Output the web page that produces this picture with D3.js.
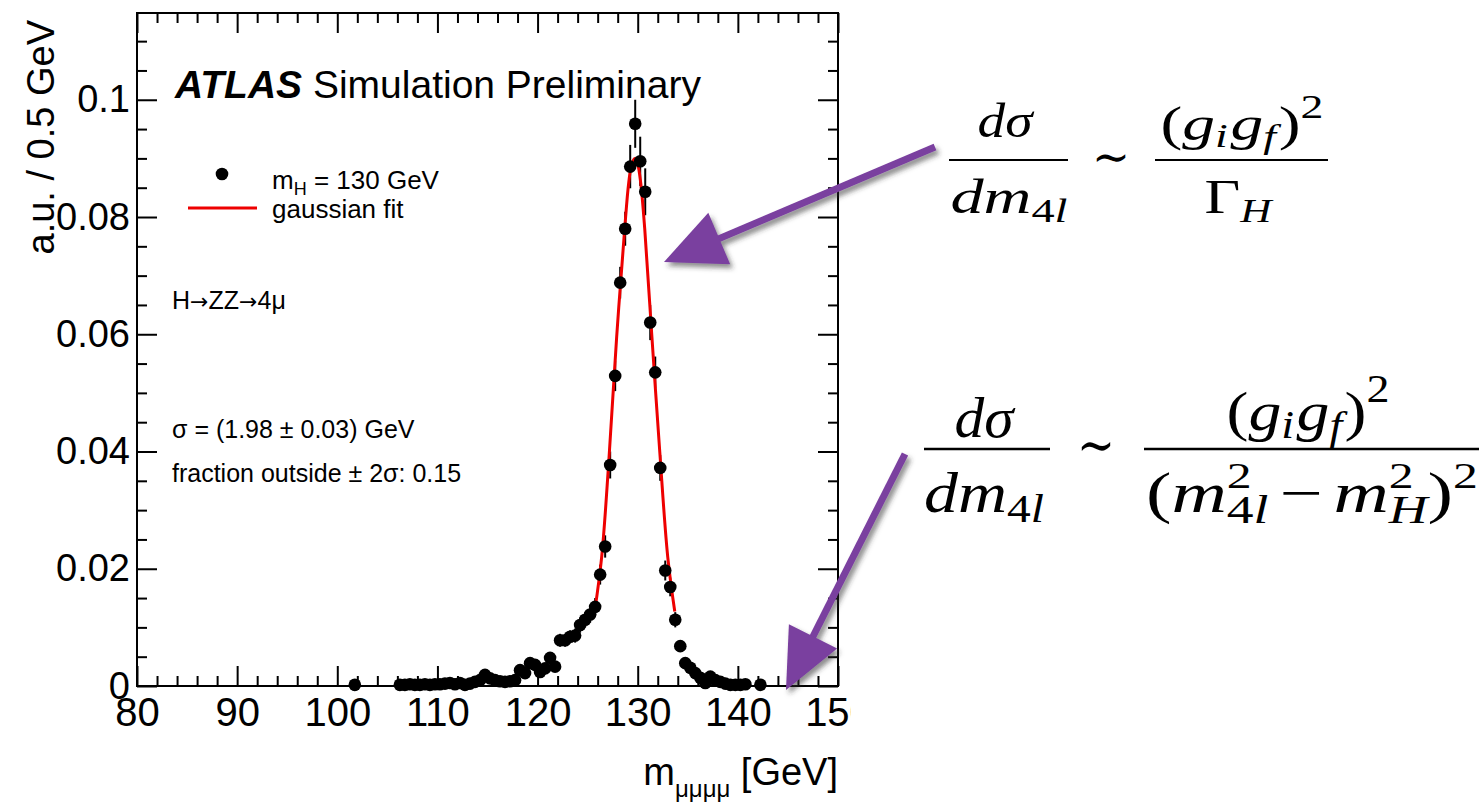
<!DOCTYPE html>
<html>
<head>
<meta charset="utf-8">
<title>ATLAS H→ZZ→4μ</title>
<script src="https://cdn.jsdelivr.net/npm/d3@7"></script>
<style>
  body { margin: 0; background: #fff; }
  svg { display: block; background: #fff; }
  .plot text { font-family: "Liberation Sans", Arial, Helvetica, sans-serif; fill: #000; }
  .math text { font-family: "Liberation Serif", "DejaVu Serif", serif; fill: #000; }
</style>
</head>
<body>
<svg id="chart" width="1481" height="803"></svg>
<script>
// m_4mu bin centres (GeV), 0.5 GeV bins
const mass = [101.75,
  106.25, 106.75, 107.25, 107.75, 108.25, 108.75, 109.25, 109.75,
  110.25, 110.75, 111.25, 111.75, 112.25, 112.75, 113.25, 113.75, 114.25, 114.75,
  115.25, 115.75, 116.25, 116.75, 117.25, 117.75, 118.25, 118.75, 119.25, 119.75,
  120.25, 120.75, 121.25, 121.75, 122.25, 122.75, 123.25, 123.75, 124.25, 124.75,
  125.25, 125.75, 126.25, 126.75, 127.25, 127.75, 128.25, 128.75, 129.25, 129.75,
  130.25, 130.75, 131.25, 131.75, 132.25, 132.75, 133.25, 133.75, 134.25, 134.75,
  135.25, 135.75, 136.25, 136.75, 137.25, 137.75, 138.25, 138.75, 139.25, 139.75,
  140.25, 140.75, 142.25];

// a.u. / 0.5 GeV
const frac = [0.0002,
  0.0002, 0.0002, 0.0003, 0.0002, 0.0002, 0.0003, 0.0002, 0.0003,
  0.0003, 0.0004, 0.0005, 0.0003, 0.0005, 0.0002, 0.0004, 0.0007, 0.0010, 0.0019,
  0.0013, 0.0010, 0.0008, 0.0007, 0.0008, 0.0010, 0.0027, 0.0022, 0.0039, 0.0036,
  0.0024, 0.0030, 0.0048, 0.0033, 0.0078, 0.0078, 0.0084, 0.0086, 0.0104, 0.0113,
  0.0122, 0.0135, 0.0190, 0.0238, 0.0377, 0.0529, 0.0688, 0.0780, 0.0886, 0.0959,
  0.0895, 0.0843, 0.0620, 0.0535, 0.0372, 0.0197, 0.0169, 0.0113, 0.0068, 0.0039,
  0.0031, 0.0022, 0.0014, 0.0005, 0.0016, 0.0010, 0.0007, 0.0004, 0.0002, 0.0002,
  0.0002, 0.0003, 0.0002];

// statistical error on each bin
const errs = [0.0003,
  0.0003, 0.0003, 0.0003, 0.0003, 0.0003, 0.0003, 0.0003, 0.0003,
  0.0003, 0.0003, 0.0003, 0.0003, 0.0003, 0.0003, 0.0003, 0.0003, 0.0005, 0.0006,
  0.0005, 0.0005, 0.0004, 0.0004, 0.0004, 0.0005, 0.0007, 0.0006, 0.0008, 0.0008,
  0.0007, 0.0007, 0.0009, 0.0008, 0.0011, 0.0011, 0.0011, 0.0012, 0.0013, 0.0013,
  0.0014, 0.0015, 0.0017, 0.0019, 0.0023, 0.0026, 0.0027, 0.0029, 0.0037, 0.0041,
  0.0042, 0.0040, 0.0030, 0.0027, 0.0022, 0.0017, 0.0016, 0.0013, 0.0010, 0.0008,
  0.0007, 0.0006, 0.0005, 0.0003, 0.0005, 0.0004, 0.0003, 0.0003, 0.0003, 0.0003,
  0.0003, 0.0003, 0.0003];

// gaussian fit curve
const fitMass = [125.7, 126.4, 127.1, 127.9, 128.7, 129.1, 129.4, 129.7, 130.0, 130.3, 130.7, 131.4, 132.2, 133.0, 133.7];
const fitFrac = [0.0127, 0.0220, 0.0380, 0.0596, 0.0780, 0.0858, 0.0890, 0.0900, 0.0890, 0.0858, 0.0780, 0.0600, 0.0400, 0.0220, 0.0127];

const xTicks = [80, 90, 100, 110, 120, 130, 140, 150];
const yTicks = [0, 0.02, 0.04, 0.06, 0.08, 0.1];

const svg = d3.select("#chart");
const sans = "Liberation Sans, Arial, Helvetica, sans-serif";

const x = d3.scaleLinear().domain([80, 150]).range([137, 838]);
const y = d3.scaleLinear().domain([0, 0.1148]).range([686, 13]);

const xMinor = d3.range(80, 151, 2).filter(d => d % 10 !== 0);
const yMinor = d3.range(0, 0.1149, 0.005).filter(d => Math.round(d * 1000) % 20 !== 0);

svg.append("clipPath").attr("id", "crop")
  .append("rect").attr("x", 0).attr("y", 0).attr("width", 851).attr("height", 803);

const plot = svg.append("g").attr("class", "plot").attr("clip-path", "url(#crop)");

function tidy(g) {
  g.select(".domain").remove();
  g.selectAll("line").attr("stroke", "#000").attr("stroke-width", 2);
  g.attr("font-family", null).attr("font-size", null);
}

// bottom
plot.append("g").attr("transform", "translate(0,686)")
  .call(d3.axisBottom(x).tickValues(xTicks).tickSize(-20).tickPadding(12).tickFormat(d3.format("d")))
  .call(tidy)
  .selectAll("text").attr("font-size", 40).attr("font-family", sans);
plot.append("g").attr("transform", "translate(0,686)")
  .call(d3.axisBottom(x).tickValues(xMinor).tickSize(-10).tickFormat(""))
  .call(tidy);
// top
plot.append("g").attr("transform", "translate(0,13)")
  .call(d3.axisTop(x).tickValues(xTicks).tickSize(-20).tickFormat(""))
  .call(tidy);
plot.append("g").attr("transform", "translate(0,13)")
  .call(d3.axisTop(x).tickValues(xMinor).tickSize(-10).tickFormat(""))
  .call(tidy);
// left
plot.append("g").attr("transform", "translate(137,0)")
  .call(d3.axisLeft(y).tickValues(yTicks).tickSize(-20).tickPadding(7).tickFormat(d => String(+d.toFixed(3))))
  .call(tidy)
  .selectAll("text").attr("font-size", 38).attr("font-family", sans);
plot.append("g").attr("transform", "translate(137,0)")
  .call(d3.axisLeft(y).tickValues(yMinor).tickSize(-10).tickFormat(""))
  .call(tidy);
// right
plot.append("g").attr("transform", "translate(838,0)")
  .call(d3.axisRight(y).tickValues(yTicks).tickSize(-20).tickFormat(""))
  .call(tidy);
plot.append("g").attr("transform", "translate(838,0)")
  .call(d3.axisRight(y).tickValues(yMinor).tickSize(-10).tickFormat(""))
  .call(tidy);

plot.append("rect")
  .attr("x", x(80)).attr("y", y(0.1148))
  .attr("width", x(150) - x(80)).attr("height", y(0) - y(0.1148))
  .attr("fill", "none").attr("stroke", "#000").attr("stroke-width", 2);

// axis titles
plot.append("text")
  .attr("transform", "translate(54,20) rotate(-90)")
  .attr("text-anchor", "end").attr("font-size", 38)
  .text("a.u. / 0.5 GeV");

const xt = plot.append("text").attr("x", 838).attr("y", 785)
  .attr("text-anchor", "end").attr("font-size", 38);
xt.append("tspan").text("m");
xt.append("tspan").attr("font-size", 24).attr("dy", 12).text("μμμμ");
xt.append("tspan").attr("dy", -12).text(" [GeV]");

// data
const pts = mass.map((m, i) => ({ m: m, v: frac[i], e: errs[i] }));

plot.append("g").selectAll("line").data(pts).join("line")
  .attr("x1", d => x(d.m)).attr("x2", d => x(d.m))
  .attr("y1", d => y(d.v - d.e)).attr("y2", d => y(d.v + d.e))
  .attr("stroke", "#000").attr("stroke-width", 2);

const fit = fitMass.map((m, i) => [m, fitFrac[i]]);
plot.append("path").datum(fit)
  .attr("d", d3.line().x(d => x(d[0])).y(d => y(d[1])).curve(d3.curveCatmullRom))
  .attr("fill", "none").attr("stroke", "#ee0000").attr("stroke-width", 3);

plot.append("g").selectAll("circle").data(pts).join("circle")
  .attr("cx", d => x(d.m)).attr("cy", d => y(d.v)).attr("r", 6.3)
  .attr("fill", "#000");

// labels inside the frame
const atlas = plot.append("text").attr("x", 175).attr("y", 98).attr("font-size", 39);
atlas.append("tspan").attr("font-weight", "bold").attr("font-style", "italic").text("ATLAS");
atlas.append("tspan").text(" Simulation Preliminary");

plot.append("circle").attr("cx", 222).attr("cy", 174).attr("r", 6.3).attr("fill", "#000");
const lg1 = plot.append("text").attr("x", 272).attr("y", 189).attr("font-size", 26);
lg1.append("tspan").text("m");
lg1.append("tspan").attr("font-size", 18).attr("dy", 6).text("H");
lg1.append("tspan").attr("dy", -6).text(" = 130 GeV");
plot.append("line").attr("x1", 188).attr("x2", 257).attr("y1", 208).attr("y2", 208)
  .attr("stroke", "#ee0000").attr("stroke-width", 3);
plot.append("text").attr("x", 272).attr("y", 218).attr("font-size", 26).text("gaussian fit");

const decay = plot.append("text").attr("x", 172).attr("y", 309).attr("font-size", 25);
decay.append("tspan").text("H");
decay.append("tspan").attr("font-family", "DejaVu Sans, sans-serif").attr("font-size", 22).text("→");
decay.append("tspan").text("ZZ");
decay.append("tspan").attr("font-family", "DejaVu Sans, sans-serif").attr("font-size", 22).text("→");
decay.append("tspan").text("4μ");
plot.append("text").attr("x", 172).attr("y", 438).attr("font-size", 25).text("σ = (1.98 ± 0.03) GeV");
plot.append("text").attr("x", 172).attr("y", 482).attr("font-size", 25).text("fraction outside ± 2σ: 0.15");

// formulas
const math = svg.append("g").attr("class", "math");

function row(cx, base, size, width, toks) {
  const g = math.append("g");
  let cur = 0;
  toks.forEach(tk => {
    const items = tk.stack || [tk];
    let w = 0;
    items.forEach(it => {
      const t = g.append("text").attr("x", cur).attr("y", it.dy || 0)
        .attr("font-size", size * (it.sc || 1));
      it.segs.forEach(s => t.append("tspan").attr("font-style", s[1] ? "italic" : "normal").text(s[0]));
      w = Math.max(w, t.node().getComputedTextLength());
    });
    cur += w + (tk.gap || 0);
  });
  const sx = width ? width / cur : 1;
  g.attr("transform", `translate(${cx},${base}) scale(${sx},1) translate(${-cur / 2},0)`);
}
function bar(x1, x2, yy, w) {
  math.append("line").attr("x1", x1).attr("x2", x2).attr("y1", yy).attr("y2", yy)
    .attr("stroke", "#000").attr("stroke-width", w);
}
const it = s => [[s, true]];
const up = s => [[s, false]];

// dσ/dm4l ~ (gi gf)^2 / ΓH
row(1005, 137, 48, 55, [{ segs: it("dσ") }]);
bar(949, 1068, 160, 2);
row(1009, 213, 48, 117, [{ segs: it("dm") }, { segs: [["4", false], ["l", true]], sc: 0.7, dy: 9 }]);
row(1111, 173, 48, 38, [{ segs: up("∼") }]);
row(1242, 140, 48, 163, [
  { segs: up("(") }, { segs: it("g") }, { segs: it("i"), sc: 0.7, dy: 7, gap: 2 },
  { segs: it("g") }, { segs: it("f"), sc: 0.7, dy: 8, gap: 2 }, { segs: up(")") },
  { segs: up("2"), sc: 0.7, dy: -22 }]);
bar(1155, 1328, 160, 2);
row(1238, 213, 48, 67, [{ segs: up("Γ") }, { segs: it("H"), sc: 0.7, dy: 9 }]);

// dσ/dm4l ~ (gi gf)^2 / (m4l^2 - mH^2)^2
row(984, 437, 56, 59, [{ segs: it("dσ") }]);
bar(924, 1050, 449, 2.5);
row(984, 512, 56, 120, [{ segs: it("dm") }, { segs: [["4", false], ["l", true]], sc: 0.7, dy: 10 }]);
row(1096, 464, 56, 38, [{ segs: up("∼") }]);
row(1308, 430, 56, 163, [
  { segs: up("(") }, { segs: it("g") }, { segs: it("i"), sc: 0.7, dy: 8, gap: 2 },
  { segs: it("g") }, { segs: it("f"), sc: 0.7, dy: 9, gap: 2 }, { segs: up(")") },
  { segs: up("2"), sc: 0.7, dy: -28 }]);
bar(1144, 1479, 449, 2.5);
row(1312, 512, 56, 332, [
  { segs: up("(") }, { segs: it("m") },
  { stack: [{ segs: up("2"), sc: 0.65, dy: -24 }, { segs: [["4", false], ["l", true]], sc: 0.7, dy: 11 }], gap: 8 },
  { segs: up("−"), gap: 8 }, { segs: it("m") },
  { stack: [{ segs: up("2"), sc: 0.65, dy: -24 }, { segs: it("H"), sc: 0.7, dy: 11 }] },
  { segs: up(")") }, { segs: up("2"), sc: 0.65, dy: -24 }]);

// arrows
const defs = svg.append("defs");
defs.append("filter").attr("id", "shadow").attr("x", "-30%").attr("y", "-30%").attr("width", "160%").attr("height", "160%")
  .append("feDropShadow").attr("dx", 3).attr("dy", 4).attr("stdDeviation", 2.5)
  .attr("flood-color", "#333").attr("flood-opacity", 0.55);

function arrow(start, tip, len, half, w) {
  const dx = tip[0] - start[0], dy = tip[1] - start[1];
  const L = Math.hypot(dx, dy), ux = dx / L, uy = dy / L;
  const bx = tip[0] - ux * len, by = tip[1] - uy * len;
  const g = svg.append("g").attr("filter", "url(#shadow)");
  g.append("line").attr("x1", start[0]).attr("y1", start[1])
    .attr("x2", bx + ux * 4).attr("y2", by + uy * 4)
    .attr("stroke", "#7a3f9f").attr("stroke-width", w);
  g.append("polygon")
    .attr("points", [[tip[0], tip[1]], [bx - uy * half, by + ux * half], [bx + uy * half, by - ux * half]].join(" "))
    .attr("fill", "#7a3f9f");
}
arrow([935, 147], [664, 262], 60, 28, 7);
arrow([905, 454], [786, 690], 60, 27, 7);
</script>
</body>
</html>
